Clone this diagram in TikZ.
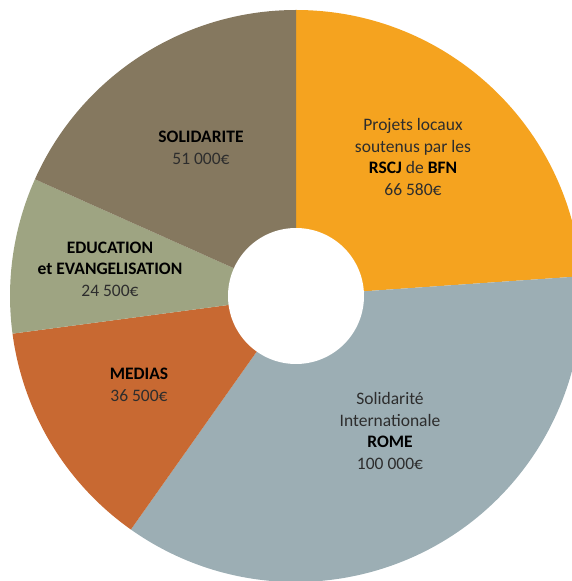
\documentclass[tikz,border=0pt]{standalone}
\usepackage{fontspec}
\setmainfont{Carlito}
\definecolor{cOrange}{RGB}{245,163,31}
\definecolor{cBlue}{RGB}{156,174,180}
\definecolor{cRust}{RGB}{200,105,50}
\definecolor{cSage}{RGB}{158,164,130}
\definecolor{cTaupe}{RGB}{133,120,95}
\definecolor{txt}{RGB}{45,45,45}
\tikzset{
  lbl/.style={align=center, text=txt, font=\fontsize{17.5}{21.5}\selectfont, inner sep=0pt},
}
\newcommand{\bb}[1]{\textbf{\color{black}#1}}
\begin{document}
\begin{tikzpicture}[x=1pt,y=1pt]
\useasboundingbox (0,0) rectangle (572,581);
\clip (0,0) rectangle (572,581);
\coordinate (c) at (296,285);
\def\R{286}
\fill[cOrange] (c) -- ++(3.961:\R) arc[start angle=3.961, end angle=90, radius=\R] -- cycle;
\fill[cBlue] (c) -- ++(-125.265:\R) arc[start angle=-125.265, end angle=3.961, radius=\R] -- cycle;
\fill[cRust] (c) -- ++(-172.433:\R) arc[start angle=-172.433, end angle=-125.265, radius=\R] -- cycle;
\fill[cSage] (c) -- ++(-204.093:\R) arc[start angle=-204.093, end angle=-172.433, radius=\R] -- cycle;
\fill[cTaupe] (c) -- ++(-270:\R) arc[start angle=-270, end angle=-204.093, radius=\R] -- cycle;
\fill[white] (c) circle[radius=68];
\node[lbl] (projets) at (413,424) {Projets locaux\\soutenus par les\\\bb{RSCJ} de \bb{BFN}\\66 580€};
\node[lbl] (solid) at (201,433) {\bb{SOLIDARITE}\\51 000€};
\node[lbl] (educ) at (110,312) {\bb{EDUCATION}\\\bb{et EVANGELISATION}\\24 500€};
\node[lbl] (medias) at (139,196) {\bb{MEDIAS}\\36 500€};
\node[lbl] (rome) at (390,150) {Solidarité\\Internationale\\\bb{ROME}\\100 000€};
\end{tikzpicture}
\end{document}
